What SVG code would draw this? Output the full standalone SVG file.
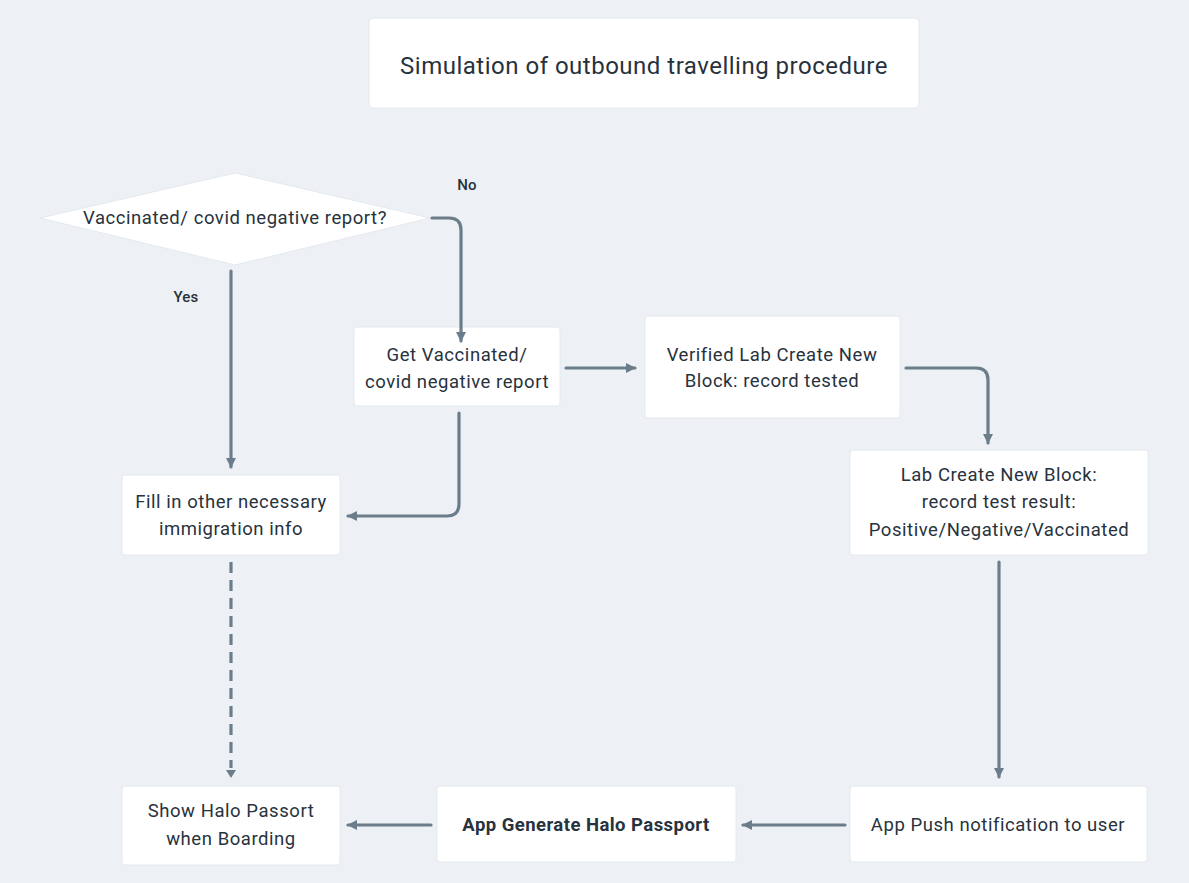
<svg xmlns="http://www.w3.org/2000/svg" width="1189" height="883" viewBox="0 0 1189 883">
<defs>
<style>
.bg{fill:#edf1f5}
.box{fill:#ffffff;stroke:#e4e9ee;stroke-width:1}
.t{font-family:Roboto,"Liberation Sans",sans-serif;font-size:18.5px;letter-spacing:0.55px;fill:#27323d;text-anchor:middle}
.tb{font-weight:bold;letter-spacing:0.45px}
.title{font-size:24px;letter-spacing:0.5px}
.lbl{font-size:15px;font-weight:500;letter-spacing:0.2px}
.c{fill:none;stroke:#6b7d8a;stroke-width:3.2;stroke-linecap:round;stroke-linejoin:round}
.d{stroke-dasharray:11 7;stroke-linecap:butt}
</style>
<marker id="ah" viewBox="0 0 10 10" refX="9" refY="5" markerWidth="10" markerHeight="10" markerUnits="userSpaceOnUse" orient="auto">
<path d="M0,0 L10,5 L0,10 z" fill="#6b7d8a"/>
</marker>
</defs>
<rect class="bg" x="0" y="0" width="1189" height="883"/>

<g id="title">
<rect class="box" x="369" y="18" width="550" height="90" rx="4"/>
<text class="t title" x="644" y="74">Simulation of outbound travelling procedure</text>
</g>

<g id="decision">
<polygon class="box" points="40,218 235,173 430,218 235,265"/>
<text class="t" x="235" y="224">Vaccinated/ covid negative report?</text>
</g>

<g id="get-vaccinated">
<rect class="box" x="354" y="327" width="206" height="79" rx="3"/>
<text class="t" x="457" y="361">Get Vaccinated/</text>
<text class="t" x="457" y="388">covid negative report</text>
</g>

<g id="verified-lab">
<rect class="box" x="645" y="316" width="255" height="102" rx="3"/>
<text class="t" x="772" y="361">Verified Lab Create New</text>
<text class="t" x="772" y="387">Block: record tested</text>
</g>

<g id="lab-create">
<rect class="box" x="850" y="450" width="298" height="105" rx="3"/>
<text class="t" x="999" y="481">Lab Create New Block:</text>
<text class="t" x="999" y="508">record test result:</text>
<text class="t" x="999" y="536">Positive/Negative/Vaccinated</text>
</g>

<g id="fill-in">
<rect class="box" x="122" y="475" width="218" height="80" rx="3"/>
<text class="t" x="231" y="508">Fill in other necessary</text>
<text class="t" x="231" y="535">immigration info</text>
</g>

<g id="show-halo">
<rect class="box" x="122" y="786" width="218" height="79" rx="3"/>
<text class="t" x="231" y="817">Show Halo Passort</text>
<text class="t" x="231" y="845">when Boarding</text>
</g>

<g id="app-generate">
<rect class="box" x="437" y="786" width="299" height="76" rx="3"/>
<text class="t tb" x="586" y="831">App Generate Halo Passport</text>
</g>

<g id="app-push">
<rect class="box" x="850" y="786" width="297" height="76" rx="3"/>
<text class="t" x="998" y="831">App Push notification to user</text>
</g>

<g id="connectors">
<path class="c" d="M432,218 H449 Q461,218 461,230 V341" marker-end="url(#ah)"/>
<path class="c" d="M231,271 V467" marker-end="url(#ah)"/>
<path class="c" d="M566,368 H635" marker-end="url(#ah)"/>
<path class="c" d="M906,368 H976 Q988,368 988,380 V443" marker-end="url(#ah)"/>
<path class="c" d="M459,413 V504 Q459,516 447,516 H348" marker-end="url(#ah)"/>
<path class="c" d="M999,562 V777" marker-end="url(#ah)"/>
<path class="c" d="M845,825 H743" marker-end="url(#ah)"/>
<path class="c" d="M431,825 H348" marker-end="url(#ah)"/>
<path class="c d" d="M231,562 V768"/>
<path d="M226,770 L236,770 L231,778 z" fill="#6b7d8a"/>
</g>

<g id="labels">
<text class="t lbl" x="467" y="190">No</text>
<text class="t lbl" x="186" y="302">Yes</text>
</g>
</svg>
